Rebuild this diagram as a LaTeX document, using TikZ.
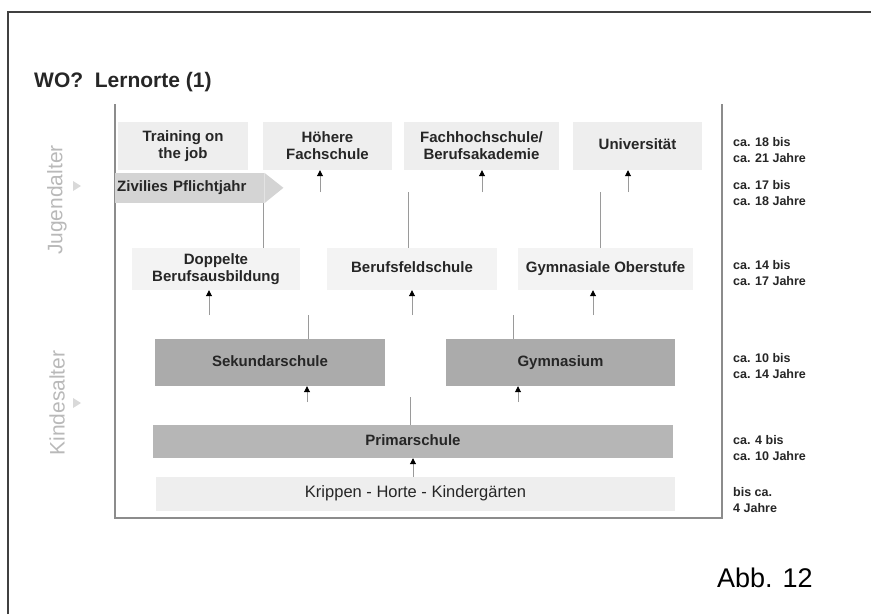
\documentclass[tikz,border=0pt]{standalone}
\usepackage{fontspec}
\setmainfont{Liberation Sans}
\usetikzlibrary{arrows.meta, positioning, calc}
\definecolor{boxlight}{HTML}{EEEEEE}
\definecolor{boxpale}{HTML}{F3F3F3}
\definecolor{boxdark}{HTML}{ABABAB}
\definecolor{boxprim}{HTML}{B6B6B6}
\definecolor{zivilfill}{HTML}{D4D4D4}
\definecolor{boxtext}{HTML}{262626}
\definecolor{linegray}{HTML}{9A9A9A}
\definecolor{framegray}{HTML}{8C8C8C}

\begin{document}
\begin{tikzpicture}[x=1pt, y=-1pt,
    lernort/.style={rectangle, fill=boxlight, inner sep=0pt, align=center, text=boxtext,
      font=\bfseries\fontsize{15}{17}\selectfont},
    zeile/.style={text height=11pt, text depth=3.5pt},
    schule/.style={lernort, zeile, fill=boxdark},
    arr/.style={draw=linegray, line width=0.9pt, -{Triangle[color=black, length=6pt, width=6pt]}},
    verb/.style={draw=linegray, line width=0.9pt},
    alter/.style={anchor=west, align=left, inner sep=0pt, text=boxtext,
      font=\bfseries\fontsize{12.5}{16}\selectfont},
    phase/.style={rotate=90, inner sep=0pt, text=gray!55, font=\fontsize{21}{21}\selectfont}]
  \useasboundingbox (0,0) rectangle (871,614);

  % Rahmen
  \draw[black!75, line width=1.3pt] (8,614) -- (8,12) -- (871,12);
  \draw[framegray, line width=1.2pt] (115,104) -- (115,518) -- (722,518) -- (722,104);

  \node[anchor=base west, inner sep=0pt, text=black!85, font=\bfseries\fontsize{21}{21}\selectfont] (titel) at (34,87) {WO?\ \ Lernorte (1)};
  \node[anchor=base west, inner sep=0pt, font=\fontsize{27}{27}\selectfont] (abb) at (717,587) {Abb. 12};

  % Lebensphasen
  \node[phase] (jugend) at (57,200) {Jugendalter};
  \node[phase] (kind) at (57,403) {Kindesalter};
  \fill[gray!30] (73,181) -- (81,186) -- (73,191) -- cycle;
  \fill[gray!30] (73,398) -- (81,403) -- (73,408) -- cycle;

  % Lernorte
  \node[lernort, minimum width=130, minimum height=48] (training) at (183,146) {Training on\\the job};
  \node[lernort, minimum width=129, minimum height=48] (hoehere) at (327.5,146) {Höhere\\Fachschule};
  \node[lernort, minimum width=155, minimum height=48] (fhs) at (481.5,146) {Fachhochschule/\\Berufsakademie};
  \node[lernort, zeile, minimum width=129, minimum height=48] (uni) at (637.5,146) {Universität};

  \node[lernort, zeile, fill=zivilfill, anchor=west, text width=145pt, align=left, inner xsep=2pt,
    minimum height=30] (zivil) at (115,188) {Zivilies Pflichtjahr};
  \fill[zivilfill] (zivil.north east) -- ++(19,15) -- (zivil.south east) -- cycle;

  \node[lernort, fill=boxpale, minimum width=168, minimum height=42] (doppelt) at (216,269) {Doppelte\\Berufsausbildung};
  \node[lernort, zeile, fill=boxpale, minimum width=170, minimum height=42] (bfs) at (412,269) {Berufsfeldschule};
  \node[lernort, zeile, fill=boxpale, minimum width=175, minimum height=42] (gymob) at (605.5,269) {Gymnasiale Oberstufe};

  \node[schule, minimum width=230, minimum height=47] (sek) at (270,362.5) {Sekundarschule};
  \node[schule, minimum width=229, minimum height=47] (gym) at (560.5,362.5) {Gymnasium};
  \node[schule, fill=boxprim, minimum width=520, minimum height=33] (prim) at (413,441.5) {Primarschule};
  \node[lernort, zeile, minimum width=519, minimum height=34, font=\fontsize{16.5}{17}\selectfont] (krippen) at (415.5,494) {Krippen - Horte - Kindergärten};

  % Altersangaben
  \foreach \y/\txt in {150/{ca. 18 bis\\ca. 21 Jahre}, 193/{ca. 17 bis\\ca. 18 Jahre},
      273/{ca. 14 bis\\ca. 17 Jahre}, 366/{ca. 10 bis\\ca. 14 Jahre},
      448/{ca. 4 bis\\ca. 10 Jahre}, 500/{bis ca.\\4 Jahre}}
    \node[alter] (alter\y) at (733,\y) {\txt};

  % Uebergaenge
  \foreach \n/\x/\y in {hoehere/320/192, fhs/482/192, uni/628/192,
      doppelt/209/315, bfs/412/315, gymob/593/315, sek/307/402, gym/518/402}{
    \coordinate (in-\n) at (\x,\y);
    \draw[arr] (in-\n) -- (in-\n |- \n.south);
  }
  \draw[arr] (prim.south |- krippen.north) -- (prim.south);

  \foreach \n/\x/\y in {bfs/408/192, gymob/600/192, sek/308/315, gym/513/315, prim/410/397}{
    \coordinate (out-\n) at (\x,\y);
    \draw[verb] (out-\n |- \n.north) -- (out-\n);
  }
  \draw[verb] (263,0 |- doppelt.north) -- (263,0 |- zivil.south);
\end{tikzpicture}
\end{document}
